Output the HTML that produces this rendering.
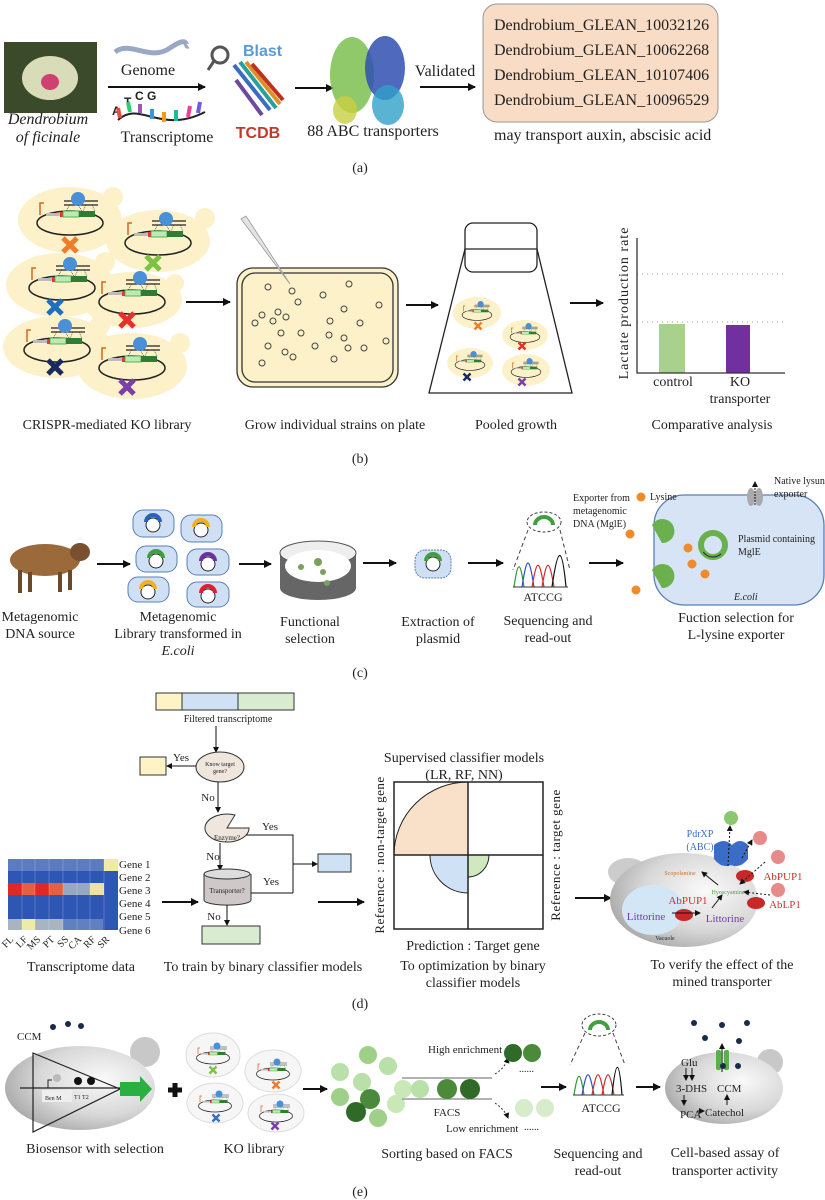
<!DOCTYPE html>
<html><head><meta charset="utf-8"><style>
html,body{margin:0;padding:0;background:#fff}
svg{display:block}
text{font-family:"Liberation Serif",serif;fill:#222}
.c{font-size:14px;text-anchor:middle}
.s{font-size:11px}
</style></head><body>
<svg width="825" height="1200" viewBox="0 0 825 1200" xmlns="http://www.w3.org/2000/svg">
<defs>
<marker id="ar" markerWidth="8" markerHeight="8" refX="7" refY="4" orient="auto" markerUnits="userSpaceOnUse"><path d="M0,0 L8,4 L0,8 Z" fill="#111"/></marker>
<marker id="as" markerWidth="6" markerHeight="6" refX="5" refY="3" orient="auto" markerUnits="userSpaceOnUse"><path d="M0,0 L6,3 L0,6 Z" fill="#111"/></marker>
<radialGradient id="gc" cx="0.65" cy="0.4" r="0.7"><stop offset="0" stop-color="#fafafa"/><stop offset="0.6" stop-color="#d8d8d8"/><stop offset="1" stop-color="#a8a8a8"/></radialGradient>
<g id="pl">
<ellipse cx="0" cy="0" rx="33" ry="12" fill="none" stroke="#222" stroke-width="1.5"/>
<rect x="-24" y="-10" width="14" height="3" fill="#bbb"/>
<rect x="-10" y="-11" width="3" height="5" fill="#e33"/>
<rect x="-7" y="-12" width="16" height="6" fill="#bfe8b8" stroke="#3a3" stroke-width="0.8"/>
<rect x="9" y="-12" width="16" height="6" fill="#2e7d32"/>
<path d="M-30,-8 V-20 H-26" stroke="#d2691e" stroke-width="1.5" fill="none"/>
<path d="M-6,-22 H28 M-6,-18 H28" stroke="#222" stroke-width="1.2"/>
<circle cx="8" cy="-24" r="7" fill="#4a90d9"/>
<path d="M0,-18 L-4,-12 M8,-18 L12,-12 M16,-18 L13,-12 M22,-18 L25,-12" stroke="#222" stroke-width="0.6" stroke-dasharray="1,1"/>
</g>
<g id="xm"><path d="M-7,-7 L7,7 M7,-7 L-7,7" stroke-width="5"/></g>
</defs>

<!-- ============ (a) ============ -->
<rect x="4" y="42" width="93" height="71" fill="#3a4a2a"/>
<ellipse cx="50" cy="78" rx="28" ry="22" fill="#d8dcb8"/>
<ellipse cx="50" cy="82" rx="9" ry="8" fill="#d04070"/>
<text x="48" y="124" style="font-size:16px;font-style:italic" text-anchor="middle">Dendrobium</text>
<text x="48" y="142" style="font-size:16px;font-style:italic" text-anchor="middle">of ficinale</text>
<path d="M115,52 C130,40 150,62 170,48 S185,48 188,46" stroke="#9aa8c8" stroke-width="5" fill="none"/>
<text x="148" y="75" style="font-size:16px" text-anchor="middle">Genome</text>
<line x1="108" y1="87" x2="205" y2="87" stroke="#111" stroke-width="2" marker-end="url(#ar)"/>
<text x="112" y="115" style="font-size:12px;font-weight:bold;font-family:'Liberation Sans'">A</text>
<text x="124" y="106" style="font-size:12px;font-weight:bold;font-family:'Liberation Sans'">T</text>
<text x="135" y="100" style="font-size:12px;font-weight:bold;font-family:'Liberation Sans'">C G</text>
<path d="M118,120 C140,100 160,135 205,112" stroke="#222" stroke-width="2" fill="none"/>
<g stroke-width="4"><line x1="120" y1="118" x2="118" y2="108" stroke="#e74c3c"/><line x1="130" y1="112" x2="128" y2="102" stroke="#2ecc71"/><line x1="140" y1="113" x2="140" y2="104" stroke="#9b59b6"/><line x1="152" y1="119" x2="152" y2="109" stroke="#3498db"/><line x1="164" y1="122" x2="164" y2="112" stroke="#f39c12"/><line x1="176" y1="121" x2="176" y2="110" stroke="#1abc9c"/><line x1="188" y1="117" x2="190" y2="106" stroke="#e84393"/><line x1="198" y1="113" x2="200" y2="102" stroke="#6c5ce7"/></g>
<text x="167" y="142" style="font-size:16px" text-anchor="middle">Transcriptome</text>
<circle cx="220" cy="55" r="8" fill="none" stroke="#555" stroke-width="3"/><line x1="214" y1="61" x2="208" y2="70" stroke="#555" stroke-width="3"/>
<text x="243" y="56" style="font-size:16px;font-weight:bold;fill:#5b9bd5;font-family:'Liberation Sans'">Blast</text>
<g stroke-width="4"><path d="M234,65 L270,110" stroke="#3b6cc0"/><path d="M240,62 L276,108" stroke="#28a0a0"/><path d="M246,62 L280,104" stroke="#e09020"/><path d="M252,64 L283,100" stroke="#c03020"/><path d="M236,80 L262,115" stroke="#6c4aa0"/></g>
<text x="258" y="138" style="font-size:16px;font-weight:bold;fill:#c0392b;font-family:'Liberation Sans'" text-anchor="middle">TCDB</text>
<line x1="295" y1="88" x2="333" y2="88" stroke="#111" stroke-width="2" marker-end="url(#ar)"/>
<ellipse cx="352" cy="75" rx="22" ry="38" fill="#7cc050" opacity="0.85"/>
<ellipse cx="385" cy="68" rx="20" ry="32" fill="#3050b0" opacity="0.85"/>
<ellipse cx="388" cy="105" rx="16" ry="20" fill="#30a0c8" opacity="0.8"/>
<ellipse cx="345" cy="110" rx="12" ry="14" fill="#c8d040" opacity="0.8"/>
<text x="373" y="136" style="font-size:16px" text-anchor="middle">88 ABC transporters</text>
<text x="445" y="76" style="font-size:16px" text-anchor="middle">Validated</text>
<line x1="420" y1="87" x2="475" y2="87" stroke="#111" stroke-width="2" marker-end="url(#ar)"/>
<rect x="483" y="4" width="235" height="118" rx="14" fill="#f9dcc6" stroke="#999" stroke-width="1"/>
<g style="font-size:16px"><text x="494" y="30">Dendrobium_GLEAN_10032126</text><text x="494" y="55">Dendrobium_GLEAN_10062268</text><text x="494" y="80">Dendrobium_GLEAN_10107406</text><text x="494" y="105">Dendrobium_GLEAN_10096529</text></g>
<text x="494" y="140" style="font-size:16px">may transport auxin, abscisic acid</text>
<text x="360" y="172" class="c">(a)</text>

<!-- ============ (b) ============ -->
<g fill="#fcf1c9">
<circle cx="113" cy="197" r="10"/><ellipse cx="70" cy="220" rx="52" ry="33"/>
<circle cx="205" cy="218" r="10"/><ellipse cx="158" cy="241" rx="52" ry="31"/>
<circle cx="105" cy="262" r="10"/><ellipse cx="60" cy="285" rx="54" ry="32"/>
<circle cx="175" cy="283" r="9"/><ellipse cx="132" cy="300" rx="50" ry="28"/>
<circle cx="100" cy="325" r="10"/><ellipse cx="57" cy="347" rx="54" ry="31"/>
<circle cx="180" cy="343" r="10"/><ellipse cx="132" cy="366" rx="55" ry="33"/>
</g>
<use href="#pl" x="70" y="223"/><use href="#pl" x="158" y="243"/><use href="#pl" x="62" y="288"/><use href="#pl" x="132" y="302"/><use href="#pl" x="57" y="350"/><use href="#pl" x="132" y="368"/>
<use href="#xm" x="70" y="245" stroke="#f07c2a"/><use href="#xm" x="153" y="263" stroke="#7dc242"/><use href="#xm" x="55" y="307" stroke="#1f6fc0"/><use href="#xm" x="127" y="320" stroke="#e8302a"/><use href="#xm" x="55" y="367" stroke="#1a2a5e"/><use href="#xm" x="127" y="387" stroke="#7b3fa8"/>
<line x1="186" y1="302" x2="230" y2="302" stroke="#111" stroke-width="2" marker-end="url(#ar)"/>
<rect x="237" y="268" width="161" height="119" rx="16" fill="#fcf1c9" stroke="#333" stroke-width="1.3"/>
<rect x="242" y="273" width="151" height="109" rx="13" fill="none" stroke="#333" stroke-width="1.3"/>
<path d="M241,219 L246,216 L290,284 Z" fill="#e4e4e4" stroke="#999" stroke-width="0.8"/>
<g fill="none" stroke="#444" stroke-width="1">
<circle cx="268" cy="287" r="3"/><circle cx="292" cy="291" r="3"/><circle cx="298" cy="302" r="3"/><circle cx="323" cy="295" r="3"/><circle cx="349" cy="284" r="3"/><circle cx="379" cy="305" r="3"/><circle cx="344" cy="309" r="3"/><circle cx="262" cy="315" r="3"/><circle cx="278" cy="312" r="3"/><circle cx="286" cy="317" r="3"/><circle cx="273" cy="321" r="3"/><circle cx="255" cy="323" r="3"/><circle cx="330" cy="321" r="3"/><circle cx="360" cy="323" r="3"/><circle cx="281" cy="333" r="3"/><circle cx="301" cy="333" r="3"/><circle cx="329" cy="335" r="3"/><circle cx="344" cy="338" r="3"/><circle cx="386" cy="341" r="3"/><circle cx="268" cy="346" r="3"/><circle cx="315" cy="346" r="3"/><circle cx="348" cy="348" r="3"/><circle cx="364" cy="348" r="3"/><circle cx="285" cy="352" r="3"/><circle cx="293" cy="357" r="3"/><circle cx="334" cy="359" r="3"/><circle cx="262" cy="363" r="3"/></g>
<line x1="406" y1="305" x2="438" y2="305" stroke="#111" stroke-width="2" marker-end="url(#ar)"/>
<rect x="465" y="223" width="72" height="49" rx="8" fill="none" stroke="#222" stroke-width="1.3"/>
<path d="M465,249 H537 L572,393 H429 Z" fill="none" stroke="#222" stroke-width="1.3"/>
<g fill="#fcf1c9"><ellipse cx="477" cy="313" rx="24" ry="16"/><ellipse cx="525" cy="335" rx="23" ry="15"/><ellipse cx="470" cy="363" rx="23" ry="15"/><ellipse cx="526" cy="370" rx="24" ry="16"/></g>
<g transform="translate(477,315) scale(0.45)"><use href="#pl"/></g><g transform="translate(525,337) scale(0.45)"><use href="#pl"/></g><g transform="translate(470,365) scale(0.45)"><use href="#pl"/></g><g transform="translate(526,372) scale(0.45)"><use href="#pl"/></g>
<g transform="translate(478,326) scale(0.5)"><use href="#xm" stroke="#f07c2a"/></g><g transform="translate(522,346) scale(0.5)"><use href="#xm" stroke="#e8302a"/></g><g transform="translate(467,377) scale(0.5)"><use href="#xm" stroke="#1a2a5e"/></g><g transform="translate(522,382) scale(0.5)"><use href="#xm" stroke="#7b3fa8"/></g>
<line x1="570" y1="303" x2="603" y2="303" stroke="#111" stroke-width="2" marker-end="url(#ar)"/>
<line x1="637" y1="274" x2="785" y2="274" stroke="#999" stroke-dasharray="1,4"/>
<line x1="637" y1="322" x2="785" y2="322" stroke="#999" stroke-dasharray="1,4"/>
<rect x="659" y="324" width="26" height="49" fill="#a9d18e"/>
<rect x="726" y="325" width="24" height="48" fill="#7030a0"/>
<path d="M637,238 V373 H785" fill="none" stroke="#333" stroke-width="1.3"/>
<text transform="translate(628,303) rotate(-90)" style="font-size:14px;letter-spacing:1px" text-anchor="middle">Lactate production rate</text>
<text x="673" y="386" class="c">control</text><text x="740" y="386" class="c">KO</text><text x="740" y="403" class="c">transporter</text>
<text x="107" y="429" class="c">CRISPR-mediated KO library</text>
<text x="335" y="429" class="c">Grow individual strains on plate</text>
<text x="516" y="429" class="c">Pooled growth</text>
<text x="712" y="429" class="c">Comparative analysis</text>
<text x="360" y="463" class="c">(b)</text>

<!-- ============ (c) ============ -->
<ellipse cx="45" cy="560" rx="35" ry="16" fill="#9a6a3a"/>
<ellipse cx="80" cy="552" rx="10" ry="9" fill="#7a5030"/>
<g stroke="#6a4a2a" stroke-width="4"><line x1="20" y1="570" x2="20" y2="593"/><line x1="30" y1="572" x2="30" y2="592"/><line x1="60" y1="572" x2="60" y2="592"/><line x1="70" y1="570" x2="70" y2="590"/></g>
<line x1="97" y1="564" x2="130" y2="564" stroke="#111" stroke-width="2" marker-end="url(#ar)"/>
<g fill="#cfe0f5" stroke="#5a7fb5" stroke-width="1">
<rect x="133" y="510" width="41" height="27" rx="10"/><rect x="181" y="515" width="41" height="27" rx="10"/><rect x="136" y="546" width="41" height="26" rx="10"/><rect x="187" y="549" width="42" height="26" rx="10"/><rect x="128" y="577" width="41" height="25" rx="10"/><rect x="187" y="582" width="42" height="25" rx="10"/></g>
<g fill="#fff" stroke="#222" stroke-width="1"><circle cx="153" cy="525" r="7"/><circle cx="201" cy="530" r="7"/><circle cx="156" cy="561" r="7"/><circle cx="208" cy="564" r="7"/><circle cx="148" cy="592" r="7"/><circle cx="208" cy="596" r="7"/></g>
<g fill="none" stroke-width="4"><path d="M146,522 A7,7 0 0 1 160,522" stroke="#2a60c0"/><path d="M194,527 A7,7 0 0 1 208,527" stroke="#f0b020"/><path d="M149,558 A7,7 0 0 1 163,558" stroke="#40a040"/><path d="M201,561 A7,7 0 0 1 215,561" stroke="#7030a0"/><path d="M141,589 A7,7 0 0 1 155,589" stroke="#f0b020"/><path d="M201,593 A7,7 0 0 1 215,593" stroke="#e02030"/></g>
<line x1="239" y1="564" x2="271" y2="564" stroke="#111" stroke-width="2" marker-end="url(#ar)"/>
<path d="M280,553 V588 A38,12 0 0 0 356,588 V553" fill="#666"/>
<ellipse cx="318" cy="553" rx="38" ry="12" fill="#eee" stroke="#555"/>
<ellipse cx="318" cy="566" rx="33" ry="16" fill="#fff"/>
<g fill="#7aa060"><circle cx="301" cy="567" r="3"/><circle cx="318" cy="562" r="4"/><circle cx="323" cy="572" r="3"/><circle cx="327" cy="583" r="3"/></g>
<line x1="363" y1="563" x2="396" y2="563" stroke="#111" stroke-width="2" marker-end="url(#ar)"/>
<rect x="415" y="550" width="36" height="28" rx="10" fill="#cfe0f5" stroke="#5a7fb5" stroke-dasharray="2,1"/>
<circle cx="433" cy="564" r="7" fill="#fff" stroke="#222"/><path d="M426,561 A7,7 0 0 1 440,561" stroke="#40a040" stroke-width="4" fill="none"/>
<line x1="468" y1="563" x2="503" y2="563" stroke="#111" stroke-width="2" marker-end="url(#ar)"/>
<ellipse cx="544" cy="522" rx="17" ry="10" fill="none" stroke="#444" stroke-dasharray="3,2"/>
<path d="M535,525 A9,8 0 0 1 553,525" stroke="#40a040" stroke-width="4" fill="none"/>
<path d="M528,530 L513,570 M560,530 L570,570" stroke="#444" stroke-dasharray="4,3"/>
<path d="M514,587 C518,560 520,560 524,587" stroke="#2a9a3a" fill="none" stroke-width="1.2"/><path d="M522,587 C527,555 529,555 534,587" stroke="#3050c0" fill="none" stroke-width="1.2"/><path d="M532,587 C537,558 539,558 544,587" stroke="#d03030" fill="none" stroke-width="1.2"/><path d="M542,587 C547,558 549,558 554,587" stroke="#d03030" fill="none" stroke-width="1.2"/><path d="M552,587 C558,545 562,545 566,587" stroke="#111" fill="none" stroke-width="1.2"/>
<line x1="513" y1="587" x2="568" y2="587" stroke="#333"/>
<text x="543" y="601" style="font-size:12px" text-anchor="middle">ATCCG</text>
<line x1="589" y1="563" x2="623" y2="563" stroke="#111" stroke-width="2" marker-end="url(#ar)"/>
<rect x="654" y="495" width="170" height="110" rx="30" fill="#d6e4f5" stroke="#5a7fb5" stroke-width="1.3"/>
<g fill="#aaa"><ellipse cx="751" cy="497" rx="4" ry="9"/><ellipse cx="759" cy="497" rx="4" ry="9"/></g>
<line x1="755" y1="505" x2="755" y2="482" stroke="#111" stroke-dasharray="2,1" marker-end="url(#as)"/>
<g fill="#6ab04c"><path d="M652,525 a12,12 0 1 1 10,18 l-4,-7 z"/><path d="M652,570 a12,12 0 1 1 10,18 l-4,-7 z"/></g>
<circle cx="713" cy="545" r="12" fill="none" stroke="#6ab04c" stroke-width="6"/><circle cx="713" cy="545" r="12" fill="none" stroke="#222" stroke-width="1" stroke-dasharray="20,80" stroke-dashoffset="-10"/>
<g fill="#f08a2a"><circle cx="641" cy="497" r="4.5"/><circle cx="630" cy="534" r="4.5"/><circle cx="688" cy="548" r="4.5"/><circle cx="692" cy="564" r="4.5"/><circle cx="705" cy="574" r="4.5"/><circle cx="636" cy="590" r="4.5"/></g>
<g style="font-size:10px"><text x="573" y="501">Exporter from</text><text x="573" y="514">metagenomic</text><text x="573" y="527">DNA (MglE)</text><text x="650" y="500">Lysine</text><text x="774" y="484">Native lysune</text><text x="774" y="497">exporter</text><text x="738" y="542">Plasmid containing</text><text x="738" y="555">MglE</text><text x="734" y="600" style="font-style:italic">E.coli</text></g>
<text x="40" y="621" class="c">Metagenomic</text><text x="40" y="638" class="c">DNA source</text>
<text x="178" y="621" class="c">Metagenomic</text><text x="178" y="638" class="c">Library transformed in</text><text x="178" y="655" class="c" style="font-style:italic">E.coli</text>
<text x="310" y="626" class="c">Functional</text><text x="310" y="643" class="c">selection</text>
<text x="438" y="626" class="c">Extraction of</text><text x="438" y="643" class="c">plasmid</text>
<text x="548" y="625" class="c">Sequencing and</text><text x="548" y="642" class="c">read-out</text>
<text x="736" y="622" class="c">Fuction selection for</text><text x="736" y="639" class="c">L-lysine exporter</text>
<text x="360" y="677" class="c">(c)</text>

<!-- ============ (d) ============ -->
<rect x="156" y="693" width="26" height="17" fill="#fdf3c4" stroke="#333"/><rect x="182" y="693" width="56" height="17" fill="#cfe2f5" stroke="#333"/><rect x="238" y="693" width="56" height="17" fill="#d8edd0" stroke="#333"/>
<text x="228" y="722" style="font-size:10px" text-anchor="middle">Filtered transcriptome</text>
<line x1="216" y1="726" x2="216" y2="752" stroke="#111" marker-end="url(#as)"/>
<ellipse cx="220" cy="767" rx="24" ry="15" fill="#efe6dd" stroke="#333"/>
<text x="220" y="766" style="font-size:6px" text-anchor="middle">Know target</text><text x="220" y="773" style="font-size:6px" text-anchor="middle">gene?</text>
<line x1="196" y1="766" x2="167" y2="766" stroke="#111" marker-end="url(#as)"/>
<rect x="140" y="757" width="26" height="18" fill="#fdf3c4" stroke="#333"/>
<text x="181" y="761" class="s" text-anchor="middle">Yes</text>
<line x1="218" y1="782" x2="218" y2="812" stroke="#111" marker-end="url(#as)"/>
<text x="208" y="801" class="s" text-anchor="middle">No</text>
<path d="M227,828 L249,828 A22,14 0 1 1 235,815 Z" fill="#efe6dd" stroke="#333"/>
<text x="227" y="840" style="font-size:7px" text-anchor="middle">Enzyme?</text>
<path d="M246,835 H293 V893" fill="none" stroke="#111"/>
<line x1="293" y1="864" x2="317" y2="864" stroke="#111" marker-end="url(#as)"/>
<rect x="318" y="854" width="33" height="18" fill="#cfe2f5" stroke="#333"/>
<text x="270" y="830" class="s" text-anchor="middle">Yes</text>
<line x1="220" y1="843" x2="220" y2="870" stroke="#111" marker-end="url(#as)"/>
<text x="213" y="860" class="s" text-anchor="middle">No</text>
<path d="M204,874 V900 A23,5 0 0 0 251,900 V874" fill="#cfc8c8" stroke="#333"/><ellipse cx="227" cy="874" rx="23" ry="5" fill="#ddd" stroke="#333"/>
<text x="227" y="893" style="font-size:7px" text-anchor="middle">Transporter?</text>
<line x1="251" y1="893" x2="293" y2="893" stroke="#111"/>
<text x="271" y="885" class="s" text-anchor="middle">Yes</text>
<line x1="227" y1="905" x2="227" y2="925" stroke="#111" marker-end="url(#as)"/>
<text x="214" y="920" class="s" text-anchor="middle">No</text>
<rect x="202" y="926" width="58" height="18" fill="#d8edd0" stroke="#333"/>
<!-- heatmap -->
<g>
<rect x="8" y="859" width="110" height="71" fill="#2e56b5"/>
<rect x="8" y="859" width="96" height="12" fill="#5b7cc0"/><rect x="104" y="859" width="14" height="12" fill="#f0eaa8"/>
<rect x="8" y="883" width="14" height="12" fill="#e02828"/><rect x="22" y="883" width="13" height="12" fill="#e56040"/><rect x="35" y="883" width="14" height="12" fill="#e02828"/><rect x="49" y="883" width="14" height="12" fill="#e56040"/><rect x="63" y="883" width="27" height="12" fill="#98a8c0"/><rect x="90" y="883" width="14" height="12" fill="#f0e0a8"/>
<rect x="8" y="919" width="14" height="11" fill="#a8b4c0"/><rect x="22" y="919" width="13" height="11" fill="#f0eaa8"/><rect x="35" y="919" width="28" height="11" fill="#a8b4c0"/><rect x="63" y="919" width="40" height="11" fill="#6080c0"/>
<g stroke="#fff" stroke-width="0.4" opacity="0.5"><path d="M22,859V930M35,859V930M49,859V930M63,859V930M77,859V930M90,859V930M104,859V930"/></g>
</g>
<g style="font-size:11px"><text x="119" y="868">Gene 1</text><text x="119" y="881">Gene 2</text><text x="119" y="894">Gene 3</text><text x="119" y="907">Gene 4</text><text x="119" y="920">Gene 5</text><text x="119" y="934">Gene 6</text></g>
<g style="font-size:10px" text-anchor="end"><text transform="translate(14,940) rotate(-45)">FL</text><text transform="translate(28,940) rotate(-45)">LF</text><text transform="translate(41,940) rotate(-45)">MS</text><text transform="translate(55,940) rotate(-45)">PT</text><text transform="translate(69,940) rotate(-45)">SS</text><text transform="translate(82,940) rotate(-45)">CA</text><text transform="translate(96,940) rotate(-45)">RF</text><text transform="translate(110,940) rotate(-45)">SR</text></g>
<line x1="162" y1="902" x2="198" y2="902" stroke="#111" stroke-width="2" marker-end="url(#ar)"/>
<line x1="318" y1="902" x2="364" y2="902" stroke="#111" stroke-width="2" marker-end="url(#ar)"/>
<text x="464" y="762" class="c">Supervised classifier models</text><text x="464" y="779" class="c">(LR, RF, NN)</text>
<path d="M394,855 A74,73 0 0 1 468,782 V855 Z" fill="#f9e0c8" stroke="#222"/>
<path d="M430,855 A38,38 0 0 0 468,893 V855 Z" fill="#cfe2f5" stroke="#222"/>
<path d="M468,877 A21,22 0 0 0 489,855 H468 Z" fill="#cfe8c0" stroke="#222"/>
<rect x="394" y="782" width="149" height="147" fill="none" stroke="#222" stroke-width="1.5"/>
<line x1="394" y1="855" x2="543" y2="855" stroke="#222" stroke-width="1.5"/><line x1="468" y1="782" x2="468" y2="929" stroke="#222" stroke-width="1.5"/>
<text transform="translate(384,855) rotate(-90)" style="font-size:13px;letter-spacing:0.5px" text-anchor="middle">Reference : non-target gene</text>
<text transform="translate(560,855) rotate(-90)" style="font-size:13px;letter-spacing:0.5px" text-anchor="middle">Reference : target gene</text>
<text x="473" y="950" class="c">Prediction : Target gene</text>
<text x="473" y="970" class="c">To optimization by binary</text><text x="473" y="987" class="c">classifier models</text>
<line x1="575" y1="898" x2="611" y2="898" stroke="#111" stroke-width="2" marker-end="url(#ar)"/>
<ellipse cx="628" cy="872" rx="20" ry="14" fill="#ccc"/>
<ellipse cx="684" cy="900" rx="74" ry="47" fill="url(#gc)"/>
<ellipse cx="653" cy="910" rx="31" ry="25" fill="#d3e6f6"/>
<path d="M714,845 q10,-8 18,0 q8,-8 16,0 v14 q-8,10 -17,6 q-9,4 -17,-6 z" fill="#3a6cc8"/>
<circle cx="731" cy="818" r="7" fill="#8cc870"/><circle cx="760" cy="838" r="7" fill="#e88a8a"/><circle cx="778" cy="857" r="7" fill="#e88a8a"/><circle cx="778" cy="890" r="7" fill="#e88a8a"/>
<g fill="#c82828"><ellipse cx="684" cy="915" rx="9" ry="6"/><ellipse cx="745" cy="876" rx="9" ry="6"/><ellipse cx="756" cy="903" rx="9" ry="6"/></g>
<g stroke="#111" stroke-width="1" fill="none"><line x1="672" y1="913" x2="700" y2="913" marker-end="url(#as)"/><line x1="712" y1="908" x2="722" y2="895" marker-end="url(#as)"/><line x1="718" y1="885" x2="702" y2="872" marker-end="url(#as)"/><line x1="728" y1="866" x2="730" y2="826" stroke-dasharray="2,2" marker-end="url(#as)"/><line x1="742" y1="858" x2="752" y2="840" stroke-dasharray="2,2" marker-end="url(#as)"/><line x1="765" y1="862" x2="740" y2="884" stroke-dasharray="2,2" marker-end="url(#as)"/><line x1="770" y1="895" x2="744" y2="892" stroke-dasharray="2,2" marker-end="url(#as)"/></g>
<text x="700" y="837" style="font-size:10px;fill:#3a6cc8" text-anchor="middle">PdrXP</text><text x="700" y="850" style="font-size:10px;fill:#3a6cc8" text-anchor="middle">(ABC)</text>
<text x="783" y="880" style="font-size:11px;fill:#d03030" text-anchor="middle">AbPUP1</text><text x="785" y="908" style="font-size:11px;fill:#d03030" text-anchor="middle">AbLP1</text>
<text x="688" y="904" style="font-size:11px;fill:#d03030" text-anchor="middle">AbPUP1</text>
<text x="646" y="920" style="font-size:11px;fill:#7040a0" text-anchor="middle">Littorine</text><text x="725" y="922" style="font-size:11px;fill:#7040a0" text-anchor="middle">Littorine</text>
<text x="680" y="875" style="font-size:6px;fill:#d07030" text-anchor="middle">Scopolamine</text><text x="728" y="894" style="font-size:6px;fill:#50a040" text-anchor="middle">Hyoscyamine</text>
<text x="665" y="940" style="font-size:6px" text-anchor="middle">Vacuole</text>
<text x="81" y="971" class="c">Transcriptome data</text>
<text x="263" y="971" class="c">To train by binary classifier models</text>
<text x="722" y="969" class="c">To verify the effect of the</text><text x="722" y="986" class="c">mined transporter</text>
<text x="360" y="1008" class="c">(d)</text>

<!-- ============ (e) ============ -->
<text x="17" y="1040" style="font-size:11px">CCM</text>
<g fill="#1a2a4a"><circle cx="53" cy="1027" r="3"/><circle cx="68" cy="1024" r="3"/><circle cx="81" cy="1026" r="3"/></g>
<circle cx="145" cy="1052" r="15" fill="#c8c8c8"/>
<ellipse cx="80" cy="1088" rx="75" ry="42" fill="url(#gc)"/>
<path d="M33,1053 L33,1132 L120,1089 Z" fill="none" stroke="#222" stroke-width="1.2"/>
<line x1="20" y1="1088" x2="120" y2="1088" stroke="#222" stroke-width="1.2"/>
<path d="M120,1082 H140 V1076 L152,1089 L140,1102 V1096 H120 Z" fill="#2ab040"/>
<rect x="42" y="1090" width="30" height="12" fill="#eee"/>
<text x="45" y="1100" style="font-size:6px">Ben M</text>
<path d="M48,1088 V1080 H52" stroke="#222" fill="none"/><circle cx="57" cy="1078" r="4" fill="#bbb"/>
<g fill="#111"><circle cx="78" cy="1081" r="4"/><circle cx="91" cy="1081" r="4"/></g>
<text x="74" y="1099" style="font-size:6px">T1 T2</text>
<path d="M168,1090 H182 M175,1083 V1097" stroke="#111" stroke-width="5"/>
<g fill="#f6f6f6" stroke="#ddd"><ellipse cx="213" cy="1055" rx="27" ry="22"/><ellipse cx="273" cy="1071" rx="28" ry="21"/><ellipse cx="215" cy="1103" rx="28" ry="20"/><ellipse cx="276" cy="1113" rx="28" ry="19"/></g>
<g transform="translate(213,1058) scale(0.5)"><use href="#pl"/></g><g transform="translate(273,1074) scale(0.5)"><use href="#pl"/></g><g transform="translate(215,1106) scale(0.5)"><use href="#pl"/></g><g transform="translate(276,1116) scale(0.5)"><use href="#pl"/></g>
<g transform="translate(213,1070) scale(0.5)"><use href="#xm" stroke="#7dc242"/></g><g transform="translate(276,1085) scale(0.5)"><use href="#xm" stroke="#f07c2a"/></g><g transform="translate(216,1118) scale(0.5)"><use href="#xm" stroke="#3a6cc8"/></g><g transform="translate(275,1126) scale(0.5)"><use href="#xm" stroke="#7b3fa8"/></g>
<line x1="303" y1="1089" x2="327" y2="1089" stroke="#111" stroke-width="2" marker-end="url(#ar)"/>
<g><circle cx="368" cy="1055" r="9" fill="#9fd08a"/><circle cx="388" cy="1066" r="9" fill="#b8e0a8"/><circle cx="340" cy="1072" r="9" fill="#b8e0a8"/><circle cx="362" cy="1082" r="9" fill="#b8e0a8"/><circle cx="340" cy="1097" r="9" fill="#9fd08a"/><circle cx="370" cy="1099" r="10" fill="#4a8a3a"/><circle cx="356" cy="1112" r="10" fill="#2f6a28"/><circle cx="378" cy="1118" r="9" fill="#9fd08a"/><circle cx="396" cy="1104" r="9" fill="#c8e8b8"/></g>
<line x1="402" y1="1078" x2="492" y2="1078" stroke="#999" stroke-width="1.5"/><line x1="402" y1="1099" x2="492" y2="1099" stroke="#999" stroke-width="1.5"/>
<circle cx="403" cy="1089" r="9" fill="#c8e8b8"/><circle cx="420" cy="1089" r="9" fill="#b8e0a8"/><circle cx="447" cy="1089" r="10" fill="#4a8a3a"/><circle cx="470" cy="1089" r="10" fill="#2f6a28"/>
<path d="M495,1074 Q505,1068 508,1058" stroke="#333" fill="none" stroke-dasharray="2,2" marker-end="url(#as)"/>
<path d="M495,1103 Q505,1110 508,1118" stroke="#333" fill="none" stroke-dasharray="2,2" marker-end="url(#as)"/>
<text x="428" y="1053" style="font-size:11px">High enrichment</text>
<circle cx="513" cy="1053" r="9" fill="#2f6a28"/><circle cx="532" cy="1053" r="9" fill="#4a8a3a"/>
<text x="519" y="1072" style="font-size:10px">......</text>
<text x="447" y="1116" style="font-size:11px" text-anchor="middle">FACS</text>
<text x="446" y="1132" style="font-size:11px">Low enrichment</text><text x="524" y="1130" style="font-size:10px">......</text>
<circle cx="524" cy="1108" r="9" fill="#d6eccb"/><circle cx="545" cy="1108" r="9" fill="#d6eccb"/>
<line x1="541" y1="1087" x2="566" y2="1087" stroke="#111" stroke-width="2" marker-end="url(#ar)"/>
<ellipse cx="599" cy="1025" rx="17" ry="11" fill="none" stroke="#444" stroke-dasharray="3,2"/>
<path d="M590,1030 A9,8 0 0 1 608,1030" stroke="#40a040" stroke-width="4" fill="none"/>
<path d="M585,1033 L570,1065 M613,1033 L625,1065" stroke="#444" stroke-dasharray="4,3"/>
<path d="M574,1095 C578,1070 580,1070 584,1095" stroke="#2a9a3a" fill="none" stroke-width="1.2"/><path d="M582,1095 C587,1068 589,1068 594,1095" stroke="#3050c0" fill="none" stroke-width="1.2"/><path d="M592,1095 C597,1068 599,1068 604,1095" stroke="#d03030" fill="none" stroke-width="1.2"/><path d="M602,1095 C607,1068 609,1068 614,1095" stroke="#d03030" fill="none" stroke-width="1.2"/><path d="M612,1095 C616,1058 619,1058 622,1095" stroke="#111" fill="none" stroke-width="1.2"/>
<line x1="573" y1="1095" x2="624" y2="1095" stroke="#333"/>
<text x="601" y="1112" style="font-size:12px" text-anchor="middle">ATCCG</text>
<line x1="636" y1="1087" x2="660" y2="1087" stroke="#111" stroke-width="2" marker-end="url(#ar)"/>
<circle cx="770" cy="1062" r="13" fill="#c8c8c8"/>
<ellipse cx="724" cy="1088" rx="59" ry="36" fill="url(#gc)"/>
<g fill="#5ab04a"><rect x="716" y="1050" width="5" height="20" rx="2"/><rect x="724" y="1050" width="5" height="20" rx="2"/></g>
<line x1="722" y1="1072" x2="722" y2="1044" stroke="#111" marker-end="url(#as)"/>
<g fill="#1a2a4a"><circle cx="694" cy="1023" r="3"/><circle cx="722" cy="1025" r="3"/><circle cx="747" cy="1023" r="3"/><circle cx="705" cy="1038" r="3"/><circle cx="739" cy="1041" r="3"/><circle cx="723" cy="1066" r="3"/><circle cx="738" cy="1066" r="3"/></g>
<g style="font-size:11px"><text x="681" y="1066">Glu</text><text x="676" y="1092">3-DHS</text><text x="717" y="1092">CCM</text><text x="680" y="1118">PCA</text><text x="705" y="1116">Catechol</text></g>
<g stroke="#111" fill="none"><line x1="686" y1="1068" x2="686" y2="1080" marker-end="url(#as)"/><line x1="692" y1="1068" x2="692" y2="1080" marker-end="url(#as)"/><line x1="684" y1="1095" x2="684" y2="1105" marker-end="url(#as)"/><line x1="697" y1="1111" x2="704" y2="1111" marker-end="url(#as)"/><line x1="727" y1="1105" x2="727" y2="1095" marker-end="url(#as)"/></g>
<text x="95" y="1153" class="c">Biosensor with selection</text>
<text x="254" y="1153" class="c">KO library</text>
<text x="447" y="1158" class="c">Sorting based on FACS</text>
<text x="598" y="1158" class="c">Sequencing and</text><text x="598" y="1175" class="c">read-out</text>
<text x="725" y="1157" class="c">Cell-based assay of</text><text x="725" y="1175" class="c">transporter activity</text>
<text x="360" y="1196" class="c">(e)</text>
</svg>
</body></html>
